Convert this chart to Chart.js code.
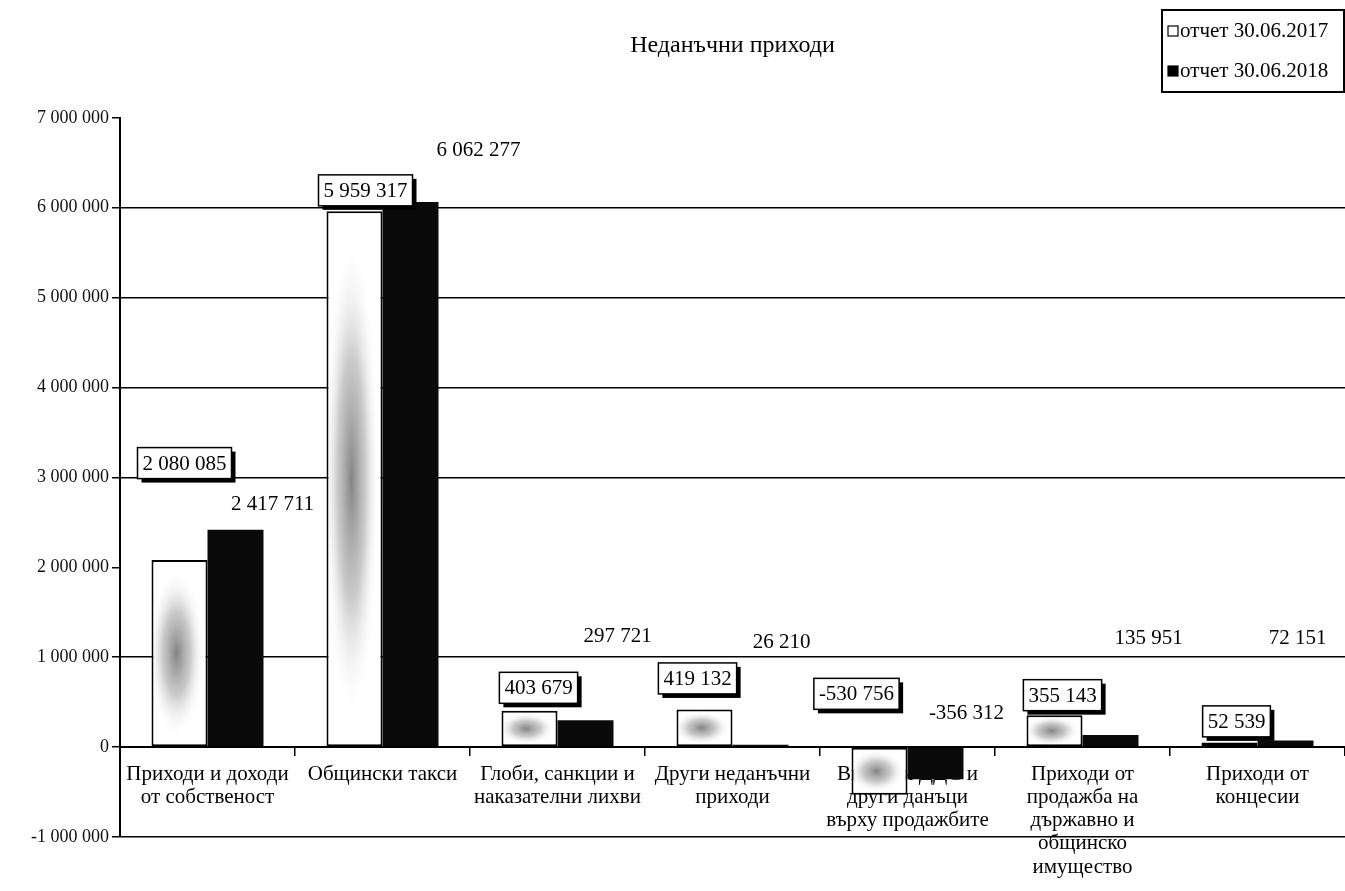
<!DOCTYPE html>
<html>
<head>
<meta charset="utf-8">
<script src="https://cdn.jsdelivr.net/npm/chart.js@4.4.1/dist/chart.umd.min.js"></script>
<style>
  body { margin: 0; background: #fff; }
  #wrap { width: 1345px; height: 891px; }
</style>
</head>
<body>
<div id="wrap"><canvas id="myChart" width="1345" height="891"></canvas></div>
<script>
// categories and values
var categories = [
    ['Приходи и доходи', 'от собственост'],
    ['Общински такси'],
    ['Глоби, санкции и', 'наказателни лихви'],
    ['Други неданъчни', 'приходи'],
    ['Внесени ДДС и', 'други данъци', 'върху продажбите'],
    ['Приходи от', 'продажба на', 'държавно и', 'общинско', 'имущество'],
    ['Приходи от', 'концесии']
];
var seriesNames = ['отчет 30.06.2017', 'отчет 30.06.2018'];
var values2017 = [2080085, 5959317, 403679, 419132, -530756, 355143, 52539];
var values2018 = [2417711, 6062277, 297721, 26210, -356312, 135951, 72151];
var yTicks = [-1000000, 0, 1000000, 2000000, 3000000, 4000000, 5000000, 6000000, 7000000];

// where the value labels sit, relative to bar top (dx, dy)
var labelShift2017 = [[5, -97], [11, -21], [9, -23], [-7, -31], [-23, -54], [8, -20], [7, -21]];
var labelShift2018 = [[37, -26], [68, -53], [32, -85], [21, -103], [31, -35], [38, -97], [12, -103]];

var serif = '"Liberation Serif", "Times New Roman", serif';

function fmt(v) {
    return String(v).replace(/\B(?=(\d{3})+(?!\d))/g, ' ');
}

// gray smudge inside the light bars
var shadeBars = {
    id: 'shadeBars',
    afterDatasetDraw: function (chart, args) {
        if (args.index !== 0) return;
        var ctx = chart.ctx;
        args.meta.data.forEach(function (bar) {
            var top = Math.min(bar.y, bar.base), bottom = Math.max(bar.y, bar.base);
            var h = bottom - top, w = bar.width;
            if (h < 4) return;
            ctx.save();
            ctx.beginPath();
            ctx.rect(bar.x - w / 2 + 2, top + 2, w - 4, h - 4);
            ctx.clip();
            ctx.translate(bar.x - 3, top + h / 2);
            ctx.scale(1, Math.max(h / w, 0.6) * 0.9);
            var g = ctx.createRadialGradient(0, 0, 0, 0, 0, w * 0.5);
            g.addColorStop(0, 'rgba(110,110,110,0.85)');
            g.addColorStop(0.5, 'rgba(150,150,150,0.5)');
            g.addColorStop(1, 'rgba(255,255,255,0)');
            ctx.fillStyle = g;
            ctx.fillRect(-w, -w, w * 2, w * 2);
            ctx.restore();
        });
    }
};

// value labels
var valueLabels = {
    id: 'valueLabels',
    afterDatasetsDraw: function (chart) {
        var ctx = chart.ctx;
        ctx.save();
        ctx.font = '21px ' + serif;
        ctx.textAlign = 'center';
        ctx.textBaseline = 'middle';
        chart.data.datasets.forEach(function (ds, di) {
            var meta = chart.getDatasetMeta(di);
            var shifts = di === 0 ? labelShift2017 : labelShift2018;
            meta.data.forEach(function (bar, i) {
                var top = Math.min(bar.y, bar.base);
                var x = bar.x + shifts[i][0];
                var y = top + shifts[i][1];
                var txt = fmt(ds.data[i]);
                if (di === 0) {
                    var tw = ctx.measureText(txt).width + 10;
                    var th = 31;
                    ctx.fillStyle = '#000';
                    ctx.fillRect(x - tw / 2 + 4, y - th / 2 + 4, tw, th);
                    ctx.fillStyle = '#fff';
                    ctx.fillRect(x - tw / 2, y - th / 2, tw, th);
                    ctx.strokeStyle = '#000';
                    ctx.lineWidth = 1.5;
                    ctx.strokeRect(x - tw / 2, y - th / 2, tw, th);
                }
                ctx.fillStyle = '#000';
                ctx.fillText(txt, x, y + 1);
            });
        });
        ctx.restore();
    }
};

// boxed legend, top right
var boxLegend = {
    id: 'boxLegend',
    afterDraw: function (chart) {
        var ctx = chart.ctx;
        ctx.save();
        ctx.strokeStyle = '#000';
        ctx.lineWidth = 2;
        ctx.strokeRect(1162, 10, 182, 82);
        ctx.font = '21px ' + serif;
        ctx.textBaseline = 'middle';
        ctx.textAlign = 'left';
        chart.data.datasets.forEach(function (ds, i) {
            var y = 31 + i * 40;
            ctx.fillStyle = i === 0 ? '#fff' : '#000';
            ctx.fillRect(1168, y - 5, 10, 10);
            ctx.strokeStyle = '#000';
            ctx.lineWidth = 1.2;
            ctx.strokeRect(1168, y - 5, 10, 10);
            ctx.fillStyle = '#000';
            ctx.fillText(ds.label, 1180, y);
        });
        ctx.restore();
    }
};

var ctx = document.getElementById('myChart').getContext('2d');
var chart = new Chart(ctx, {
    type: 'bar',
    data: {
        labels: categories,
        datasets: [{
            label: seriesNames[0],
            data: values2017,
            backgroundColor: '#fff',
            borderColor: '#000',
            borderWidth: 2,
            borderSkipped: false
        }, {
            label: seriesNames[1],
            data: values2018,
            backgroundColor: '#0a0a0a',
            borderColor: '#0a0a0a',
            borderWidth: 0
        }]
    },
    options: {
        responsive: false,
        animation: false,
        categoryPercentage: 0.64,
        barPercentage: 1.0,
        layout: { padding: { top: 0, left: 0, right: 0, bottom: 54 } },
        plugins: {
            legend: { display: false },
            tooltip: { enabled: false },
            title: {
                display: true,
                text: 'Неданъчни приходи',
                fullSize: false,
                color: '#000',
                font: { family: serif, size: 24, weight: 'normal', lineHeight: 1.2 },
                padding: { top: 31, bottom: 58 }
            }
        },
        scales: {
            x: {
                position: { y: 0 },
                grid: {
                    display: true,
                    offset: true,
                    drawOnChartArea: false,
                    drawTicks: true,
                    tickLength: 8,
                    color: '#000',
                    lineWidth: 1.5
                },
                border: { display: true, color: '#000', width: 2 },
                ticks: {
                    color: '#000',
                    padding: 8,
                    maxRotation: 0,
                    autoSkip: false,
                    font: { family: serif, size: 21, lineHeight: 1.1 }
                }
            },
            y: {
                min: yTicks[0],
                max: yTicks[yTicks.length - 1],
                afterFit: function (s) { s.width = 120; },
                afterBuildTicks: function (s) {
                    s.ticks = yTicks.map(function (v) { return { value: v }; });
                },
                grid: {
                    color: function (c) {
                        if (!c.tick) return '#000';
                        return (c.tick.value === 2000000 || c.tick.value === 7000000) ? 'rgba(0,0,0,0)' : '#000';
                    },
                    lineWidth: 1.5,
                    tickLength: 8,
                    tickColor: '#000'
                },
                border: { display: true, color: '#000', width: 2 },
                ticks: {
                    color: '#111',
                    padding: 3,
                    font: { family: serif, size: 18 },
                    callback: function (v) { return fmt(v); }
                }
            }
        }
    },
    plugins: [shadeBars, valueLabels, boxLegend]
});
</script>
</body>
</html>
